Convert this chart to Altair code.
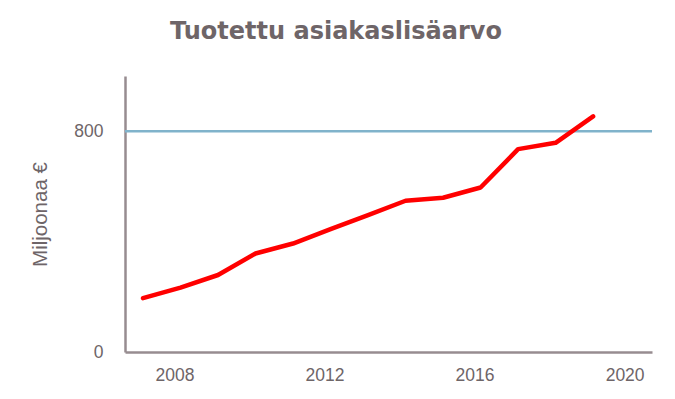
import altair as alt
import pandas as pd

years = [2007, 2008, 2009, 2010, 2011, 2012, 2013, 2014, 2015, 2016, 2017, 2018, 2019]
values = [195, 233, 279, 357, 393, 445, 496, 548, 559, 596, 735, 758, 854]
target_value = 800
x_ticks = [2008, 2012, 2016, 2020]
y_ticks = [0, 800]

df = pd.DataFrame({"year": years, "value": values})

text_color = "#6E6568"
axis_color = "#978C90"

base = alt.Chart(df)

line = base.mark_line(color="#FF0000", strokeWidth=4.5, strokeCap="round", strokeJoin="round").encode(
    x=alt.X("year:Q",
            scale=alt.Scale(domain=[2006.52, 2020.57], nice=False, zero=False),
            axis=alt.Axis(values=x_ticks, format="d", title=None, grid=False, ticks=False,
                          labelOffset=-6, labelPadding=14, labelFontSize=17.5, labelFont="Liberation Sans",
                          labelColor=text_color, domainColor=axis_color, domainWidth=2.5,
                          labelFlush=False)),
    y=alt.Y("value:Q",
            scale=alt.Scale(domain=[0, 1000], nice=False),
            axis=alt.Axis(values=y_ticks, title="Miljoonaa €", grid=False, ticks=False,
                          labelPadding=22, labelFontSize=17.5, labelFont="Liberation Sans",
                          labelColor=text_color, domainColor=axis_color, domainWidth=2.5,
                          titleFontSize=20.5, titleFont="Liberation Sans", titleFontWeight="normal",
                          titleColor=text_color, titlePadding=23)),
)

rule = alt.Chart(pd.DataFrame({"t": [target_value]})).mark_rule(color="#80B3CB", strokeWidth=2.5).encode(
    y=alt.Y("t:Q")
)

chart = alt.layer(rule, line).properties(
    width=527,
    height=276,
    title=alt.TitleParams("Tuotettu asiakaslisäarvo", anchor="start", frame="group", dx=45, offset=32,
                          fontSize=24, font="DejaVu Sans", fontWeight="bold", color=text_color),
    autosize=alt.AutoSizeParams(type="none"),
    padding={"left": 117, "top": 68, "right": 15, "bottom": 39},
).configure_view(stroke=None)

chart.save("out.html", embed_options={"renderer": "svg", "actions": False})
